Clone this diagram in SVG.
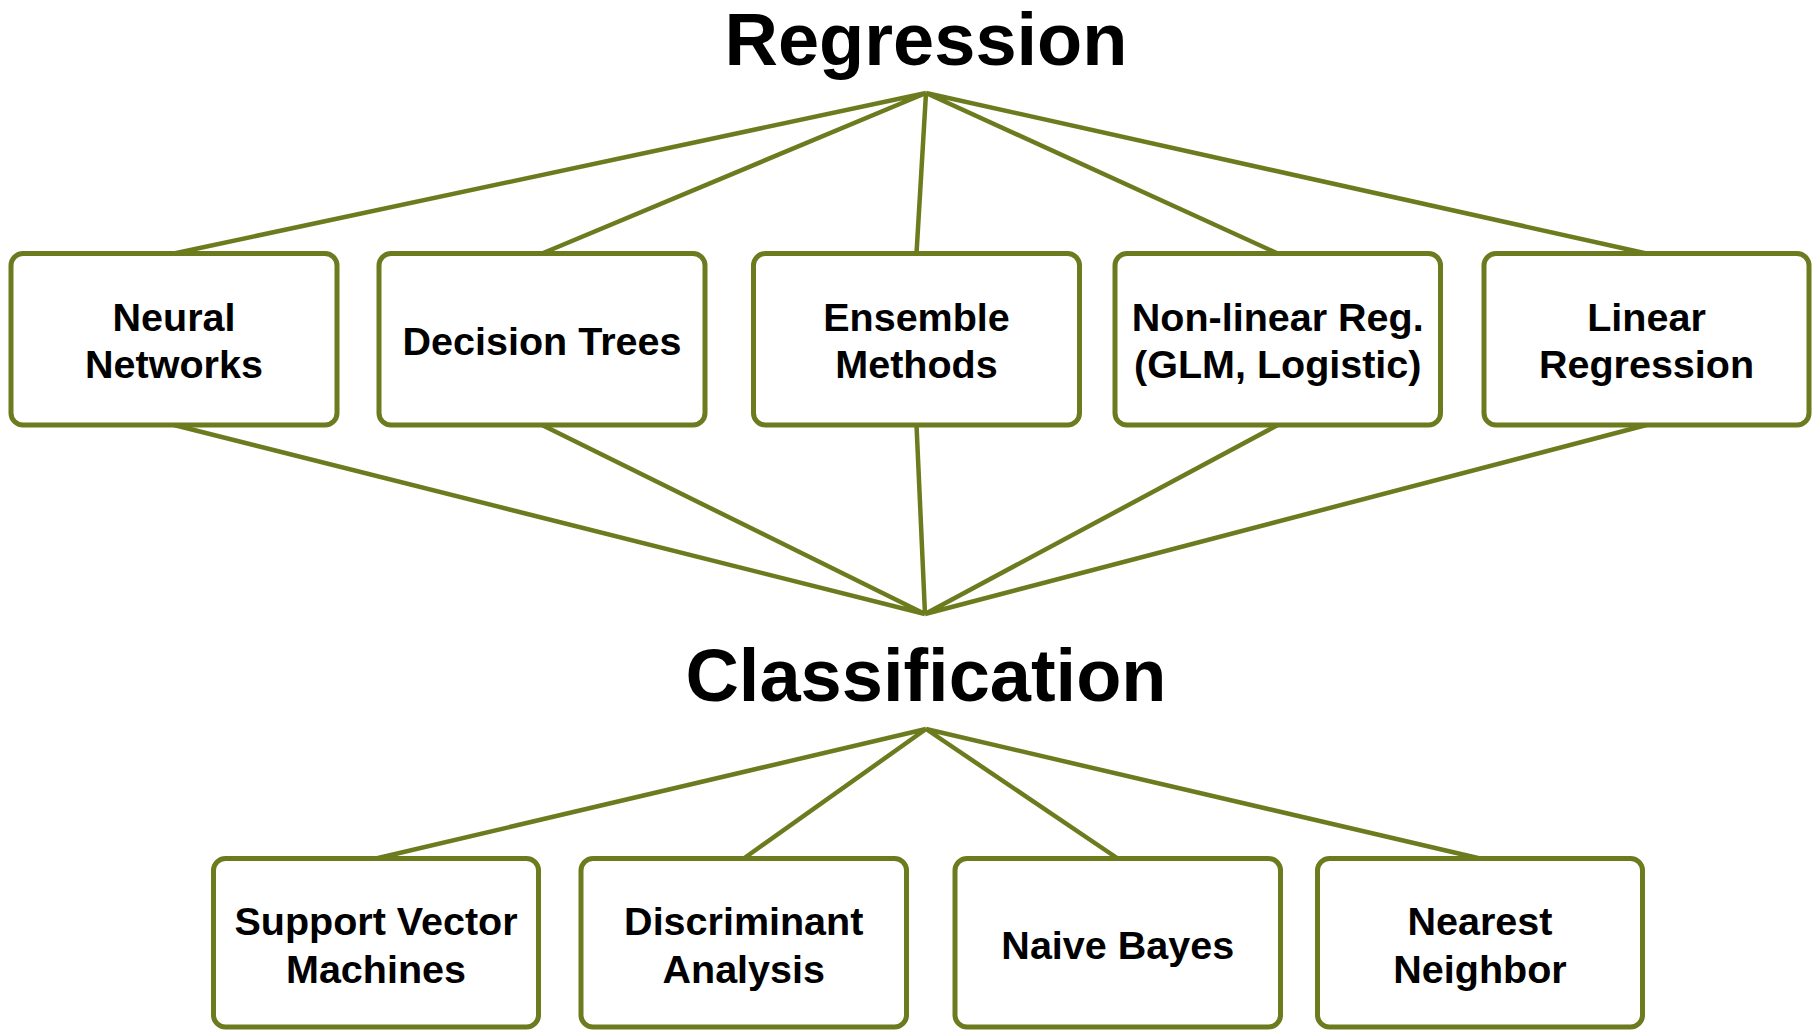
<svg xmlns="http://www.w3.org/2000/svg" width="1818" height="1030" viewBox="0 0 1818 1030">
<style>
.box{fill:#fff;stroke:#6D7B1F;stroke-width:5}
.ln{stroke:#6D7B1F;stroke-width:4.5;fill:none}
.t{font-family:"Liberation Sans",Arial,sans-serif;font-weight:bold;font-size:39.5px;fill:#000;text-anchor:middle}
.h{font-family:"Liberation Sans",Arial,sans-serif;font-weight:bold;font-size:74px;fill:#000;text-anchor:middle}
</style>
<rect width="1818" height="1030" fill="#fff"/>
<g id="connectors">
<path class="ln" d="M926 93 L174 253.5 M926 93 L542 253.5 M926 93 L916.5 253.5 M926 93 L1277.75 253.5 M926 93 L1646.5 253.5"/>
<path class="ln" d="M174 425 L925 614 M542 425 L925 614 M916.5 425 L925 614 M1277.75 425 L925 614 M1646.5 425 L925 614"/>
<path class="ln" d="M926 729 L376 858.5 M926 729 L743.75 858.5 M926 729 L1117.75 858.5 M926 729 L1480 858.5"/>
</g>
<g id="regression"><text class="h" x="926" y="65">Regression</text></g>
<g id="classification"><text class="h" x="926" y="701">Classification</text></g>
<g id="neural"><rect class="box" x="11" y="253.5" width="326" height="171.5" rx="12"/><text class="t" x="174" y="331">Neural</text><text class="t" x="174" y="378">Networks</text></g>
<g id="decision"><rect class="box" x="379" y="253.5" width="326" height="171.5" rx="12"/><text class="t" x="542" y="355">Decision Trees</text></g>
<g id="ensemble"><rect class="box" x="753.5" y="253.5" width="326" height="171.5" rx="12"/><text class="t" x="916.5" y="331">Ensemble</text><text class="t" x="916.5" y="378">Methods</text></g>
<g id="nonlinear"><rect class="box" x="1115" y="253.5" width="325.5" height="171.5" rx="12"/><text class="t" x="1277.75" y="331">Non-linear Reg.</text><text class="t" x="1277.75" y="378">(GLM, Logistic)</text></g>
<g id="linear"><rect class="box" x="1484" y="253.5" width="325" height="171.5" rx="12"/><text class="t" x="1646.5" y="331">Linear</text><text class="t" x="1646.5" y="378">Regression</text></g>
<g id="svm"><rect class="box" x="213.5" y="858.5" width="325" height="168.5" rx="12"/><text class="t" x="376" y="935">Support Vector</text><text class="t" x="376" y="983">Machines</text></g>
<g id="discriminant"><rect class="box" x="581" y="858.5" width="325.5" height="168.5" rx="12"/><text class="t" x="743.75" y="935">Discriminant</text><text class="t" x="743.75" y="983">Analysis</text></g>
<g id="bayes"><rect class="box" x="955" y="858.5" width="325.5" height="168.5" rx="12"/><text class="t" x="1117.75" y="959">Naive Bayes</text></g>
<g id="nearest"><rect class="box" x="1317.5" y="858.5" width="325" height="168.5" rx="12"/><text class="t" x="1480" y="935">Nearest</text><text class="t" x="1480" y="983">Neighbor</text></g>
</svg>
